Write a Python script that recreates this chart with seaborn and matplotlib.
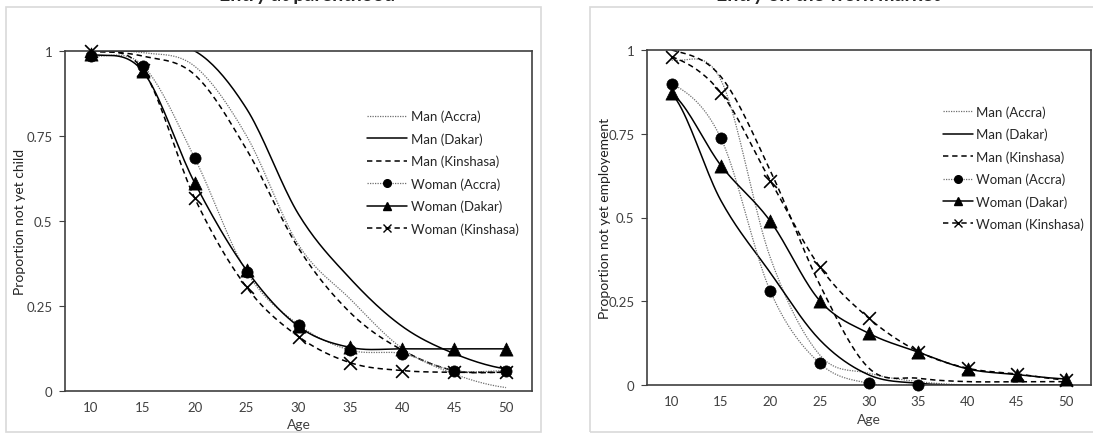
import numpy as np
import matplotlib
matplotlib.use('Agg')
import matplotlib.pyplot as plt
import seaborn as sns
from matplotlib.lines import Line2D
from matplotlib.patches import Rectangle

# ---- data ----
ages = [10, 15, 20, 25, 30, 35, 40, 45, 50]
nan = np.nan

# Entry at parenthood
par_man_accra = [1.0, 0.995, 0.955, 0.75, 0.43, 0.27, 0.125, 0.05, 0.01]
par_man_dakar = [1.0, 1.0, 1.0, 0.83, 0.52, 0.33, 0.19, 0.11, 0.065]
par_man_kinshasa = [1.0, 0.985, 0.93, 0.71, 0.42, 0.23, 0.12, 0.06, 0.055]
par_woman_accra = [0.985, 0.957, 0.685, 0.35, 0.195, 0.12, 0.11, 0.06, 0.06]
par_woman_dakar = [0.99, 0.94, 0.612, 0.355, 0.19, 0.128, 0.124, 0.124, 0.124]
par_woman_kinshasa = [1.0, 0.945, 0.567, 0.305, 0.16, 0.083, 0.06, 0.055, 0.055]

# Entry on the work market
work_man_accra = [0.97, 0.91, 0.38, 0.09, 0.035, 0.01, 0.0, 0.0, 0.0]
work_man_dakar = [0.87, 0.55, 0.335, 0.135, 0.03, 0.005, 0.0, 0.0, 0.0]
work_man_kinshasa = [1.0, 0.92, 0.64, 0.30, 0.05, 0.02, 0.01, 0.01, 0.01]
work_woman_accra = [0.90, 0.736, 0.28, 0.065, 0.005, 0.0, nan, nan, nan]
work_woman_dakar = [0.871, 0.655, 0.489, 0.252, 0.154, 0.098, 0.048, 0.031, 0.018]
work_woman_kinshasa = [0.98, 0.872, 0.61, 0.353, 0.199, 0.10, 0.05, 0.033, 0.015]

labels = ['Man (Accra)', 'Man (Dakar)', 'Man (Kinshasa)',
          'Woman (Accra)', 'Woman (Dakar)', 'Woman (Kinshasa)']

styles = {
    'Man (Accra)': dict(color='#6e6e6e', ls=(0, (1, 1)), lw=0.9, marker=None),
    'Man (Dakar)': dict(color='black', ls='-', lw=1.1, marker=None),
    'Man (Kinshasa)': dict(color='black', ls=(0, (3.5, 2.5)), lw=1.1, marker=None),
    'Woman (Accra)': dict(color='#6e6e6e', ls=(0, (1, 1)), lw=0.9, marker='o'),
    'Woman (Dakar)': dict(color='black', ls='-', lw=1.1, marker='^'),
    'Woman (Kinshasa)': dict(color='black', ls=(0, (3.5, 2.5)), lw=1.1, marker='x'),
}
msize = {'o': 65, '^': 90, 'x': 85}


def smooth(x, y, n=20):
    # excel-like smoothed line (catmull-rom through the points)
    x = np.asarray(x, float)
    y = np.asarray(y, float)
    ok = ~np.isnan(y)
    x, y = x[ok], y[ok]
    m = np.empty_like(y)
    m[1:-1] = (y[2:] - y[:-2]) / 2
    m[0] = (y[1] - y[0]) / 2
    m[-1] = (y[-1] - y[-2]) / 2
    xs, ys = [], []
    t = np.linspace(0, 1, n, endpoint=False)
    h00 = 2*t**3 - 3*t**2 + 1
    h10 = t**3 - 2*t**2 + t
    h01 = -2*t**3 + 3*t**2
    h11 = t**3 - t**2
    for i in range(len(x) - 1):
        xs.append(x[i] + t*(x[i+1] - x[i]))
        ys.append(h00*y[i] + h10*m[i] + h01*y[i+1] + h11*m[i+1])
    xs.append([x[-1]])
    ys.append([y[-1]])
    return np.concatenate(xs), np.concatenate(ys)


sns.set_style('white')
plt.rcParams['font.family'] = ['Lato', 'DejaVu Sans']

fig = plt.figure(figsize=(10.93, 4.35), dpi=100)
W, H = 1093, 435


def px_axes(x0, x1, ytop, ybot):
    return fig.add_axes([x0/W, 1 - ybot/H, (x1 - x0)/W, (ybot - ytop)/H])


# chart area frames
fig.patches.append(Rectangle((6/W, 1 - 433/H), (541 - 6)/W, (433 - 8)/H,
                             transform=fig.transFigure, fill=False,
                             edgecolor='#d9d9d9', lw=1.2))
fig.patches.append(Rectangle((590/W, 1 - 433/H), (1100 - 590)/W, (433 - 8)/H,
                             transform=fig.transFigure, fill=False,
                             edgecolor='#d9d9d9', lw=1.2))

ax1 = px_axes(65, 532, 52, 392)
ax2 = px_axes(647, 1091, 51, 386)

panels = [
    (ax1, [par_man_accra, par_man_dakar, par_man_kinshasa,
           par_woman_accra, par_woman_dakar, par_woman_kinshasa],
     'Proportion not yet child', 65, 467, 367, 3.0, 0.3, -0.078, -0.083, 0.827),
    (ax2, [work_man_accra, work_man_dakar, work_man_kinshasa,
           work_woman_accra, work_woman_dakar, work_woman_kinshasa],
     'Proportion not yet employement', 647, 444, 943, 2.25, 0.25, -0.085, -0.081, 0.835),
]

for ax, series, ylab, ax_x0, ax_w, leg_x, hlen, hpad, xl_y, yl_x, leg_y in panels:
    for lab, vals in zip(labels, series):
        st = styles[lab]
        xs, ys = smooth(ages, vals)
        sns.lineplot(x=xs, y=ys, ax=ax, sort=False, estimator=None,
                     color=st['color'], linestyle=st['ls'], linewidth=st['lw'])
        if st['marker']:
            v = np.asarray(vals, float)
            ok = ~np.isnan(v)
            sns.scatterplot(x=np.asarray(ages)[ok], y=v[ok], ax=ax,
                            marker=st['marker'], s=msize[st['marker']],
                            color='black', edgecolor='black',
                            linewidth=1.2 if st['marker'] == 'x' else 0.5,
                            clip_on=False, zorder=5)
    ax.set_xlim(7.5, 52.5)
    ax.set_ylim(0, 1)
    ax.set_xticks(ages)
    ax.set_xticklabels([str(a) for a in ages])
    ax.set_yticks([0, 0.25, 0.5, 0.75, 1])
    ax.set_yticklabels(['0', '0.25', '0.5', '0.75', '1'])
    ax.tick_params(axis='x', length=0, pad=7, labelsize=9.5, labelcolor='#404040')
    ax.tick_params(axis='y', length=4, width=0.8, direction='out', pad=5,
                   labelsize=9.5, labelcolor='#404040', color='#404040', left=True)
    for sp in ax.spines.values():
        sp.set_visible(True)
        sp.set_color('#404040')
        sp.set_linewidth(1.2)
    ax.set_xlabel('Age', fontsize=10, color='#404040')
    ax.set_ylabel(ylab, fontsize=10, color='#202020')
    ax.xaxis.set_label_coords(0.5, xl_y)
    ax.yaxis.set_label_coords(yl_x, 0.5)

    handles = []
    for lab in labels:
        st = styles[lab]
        handles.append(Line2D([], [], color=st['color'], linestyle=st['ls'],
                              linewidth=st['lw'], marker=st['marker'],
                              markersize=5.5, markerfacecolor='black',
                              markeredgecolor='black'))
    bb_x = (leg_x - ax_x0) / ax_w
    ax.legend(handles, labels, loc='upper left', bbox_to_anchor=(bb_x, leg_y),
              frameon=False, fontsize=9.5, handlelength=hlen,
              handletextpad=hpad, labelspacing=0.75, borderaxespad=0,
              borderpad=0, labelcolor='#262626')

fig.text(307/W, 1 - 1/H, 'Entry at parenthood', ha='center', va='baseline',
         fontsize=14, fontweight='bold')
fig.text(828/W, 1 - 1/H, 'Entry on the work market', ha='center', va='baseline',
         fontsize=14, fontweight='bold')

fig.savefig('out.png', dpi=100)
